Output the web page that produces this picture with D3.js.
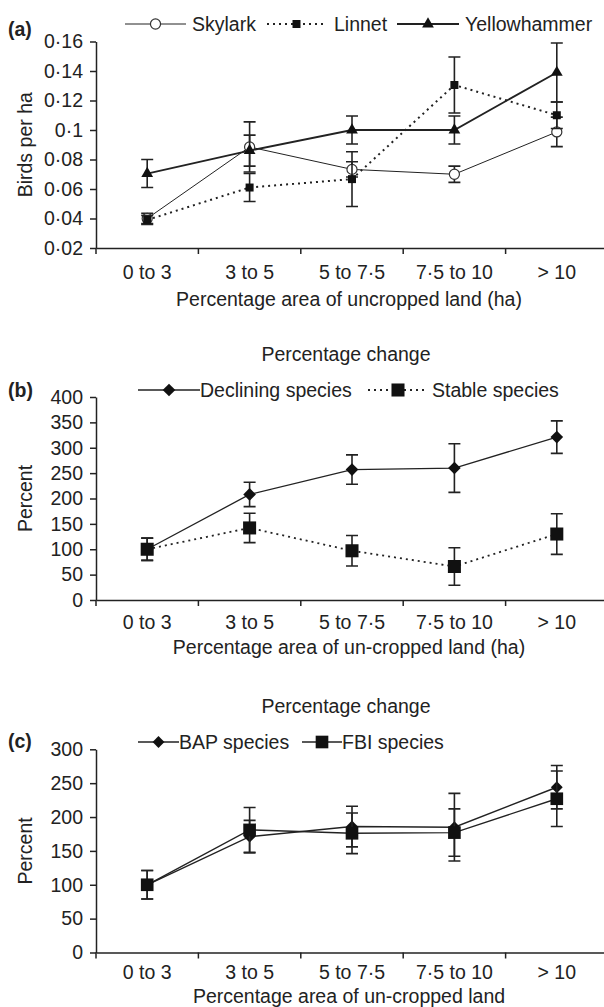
<!DOCTYPE html>
<html>
<head>
  <meta charset="utf-8">
  <title>Birds and uncropped land</title>
  <style>
  body { margin: 0; background: #fff; }
  svg text { font-family: "Liberation Sans", Arial, sans-serif; fill: #222; font-size: 19.5px; }
  .axis path, .axis line { stroke: #222; stroke-width: 1.5px; }
  .axis text { font-size: 19.5px; }
  </style>
</head>
<body>
  <svg width="604" height="1007"></svg>
  <script src="https://d3js.org/d3.v7.min.js"></script>
  <script>
  // categories on the x axis
  var categories = ["0 to 3", "3 to 5", "5 to 7·5", "7·5 to 10", "> 10"];

  // (a) birds per ha
  var ticksA = [0.02, 0.04, 0.06, 0.08, 0.10, 0.12, 0.14, 0.16];
  var tickLabelsA = ["0·02", "0·04", "0·06", "0·08", "0·1", "0·12", "0·14", "0·16"];
  var skylark = [0.040, 0.0885, 0.0733, 0.070, 0.0987];
  var skylarkErr = [0.0035, 0.017, 0.0052, 0.0055, 0.010];
  var linnet = [0.039, 0.061, 0.0667, 0.1305, 0.110];
  var linnetErr = [0.003, 0.0095, 0.0186, 0.019, 0.009];
  var yellowhammer = [0.0705, 0.086, 0.100, 0.100, 0.139];
  var yellowhammerErr = [0.0095, 0.0105, 0.0095, 0.0095, 0.020];

  // (b) percentage change, declining vs stable
  var ticksB = [0, 50, 100, 150, 200, 250, 300, 350, 400];
  var declining = [100, 208, 257, 260, 321];
  var decliningErr = [22, 24, 29, 48, 32];
  var stable = [100, 142, 97, 66, 130];
  var stableErr = [22, 29, 30, 37, 40];

  // (c) percentage change, BAP vs FBI
  var ticksC = [0, 50, 100, 150, 200, 250, 300];
  var bap = [100, 171, 186, 185, 244];
  var bapErr = [21, 24, 30, 50, 32];
  var fbi = [100, 181, 176, 177, 227];
  var fbiErr = [21, 33, 30, 35, 41];

  var svg = d3.select("svg");
  var left = 96, right = 608;

  var x = d3.scaleBand().domain(categories).range([left, right]).paddingInner(0);
  var cx = function(c) { return x(c) + x.bandwidth() / 2; };

  function marker(sel, m) {
    var sym = d3.symbol().type(m.type).size(m.size);
    sel.attr("d", sym)
      .attr("fill", m.fill)
      .attr("stroke", m.stroke || "none")
      .attr("stroke-width", m.strokeWidth || 0);
    if (m.rotate) sel.attr("transform", function() {
      return d3.select(this).attr("transform") + " rotate(45)";
    });
  }

  function panel(p) {
    var g = svg.append("g");
    var y = d3.scaleLinear().domain(p.domain).range([p.bottom, p.top]);

    // y axis
    g.append("g").attr("class", "axis")
      .attr("transform", "translate(" + left + ",0)")
      .call(d3.axisLeft(y).tickValues(p.ticks).tickSize(6).tickPadding(7)
        .tickSizeOuter(0).tickFormat(function(d, i) { return p.tickLabels ? p.tickLabels[i] : d; }));

    // x axis: ticks on the category boundaries
    var xa = g.append("g").attr("class", "axis")
      .attr("transform", "translate(0," + p.bottom + ")")
      .call(d3.axisBottom(x).tickSize(6).tickPadding(p.xPad).tickSizeOuter(0));
    xa.selectAll(".tick line").attr("x1", -x.bandwidth() / 2).attr("x2", -x.bandwidth() / 2);

    // titles
    g.append("text").attr("x", 8).attr("y", p.letterY)
      .style("font-weight", "bold").text(p.letter);
    g.append("text").attr("transform", "translate(32," + ((p.top + p.bottom) / 2) + ") rotate(-90)")
      .attr("text-anchor", "middle").text(p.ylabel);
    g.append("text").attr("x", 349).attr("y", p.bottom + p.titleOff)
      .attr("text-anchor", "middle").text(p.xlabel);
    if (p.heading) {
      g.append("text").attr("x", 346).attr("y", p.top - 36)
        .attr("text-anchor", "middle").text(p.heading);
    }

    // series
    p.series.forEach(function(s) {
      var pts = categories.map(function(c, i) { return {c: c, v: s.values[i], e: s.err[i]}; });
      var sg = g.append("g");
      sg.selectAll(".err").data(pts).enter().append("path")
        .attr("fill", "none").attr("stroke", "#222").attr("stroke-width", 1.6)
        .attr("d", function(d) {
          var xx = cx(d.c), y1 = y(d.v + d.e), y2 = y(d.v - d.e), w = 6;
          return "M" + (xx - w) + "," + y1 + "H" + (xx + w) + "M" + xx + "," + y1 + "V" + y2 +
            "M" + (xx - w) + "," + y2 + "H" + (xx + w);
        });
      sg.append("path").datum(pts)
        .attr("fill", "none").attr("stroke", "#222")
        .attr("stroke-width", s.width).attr("stroke-dasharray", s.dash || null)
        .attr("d", d3.line().x(function(d) { return cx(d.c); }).y(function(d) { return y(d.v); }));
      sg.selectAll(".mk").data(pts).enter().append("path")
        .attr("transform", function(d) { return "translate(" + cx(d.c) + "," + y(d.v) + ")"; })
        .call(marker, s.marker);

      // legend entry
      var lg = g.append("g");
      lg.append("line").attr("x1", s.legend[0]).attr("x2", s.legend[1])
        .attr("y1", p.legendY).attr("y2", p.legendY)
        .attr("stroke", "#222").attr("stroke-width", s.width).attr("stroke-dasharray", s.dash || null);
      lg.append("path").attr("transform", "translate(" + ((s.legend[0] + s.legend[1]) / 2) + "," + p.legendY + ")")
        .call(marker, s.marker);
      lg.append("text").attr("x", s.legend[2]).attr("y", p.legendY).attr("dy", "0.35em")
        .text(s.name);
    });
  }

  panel({
    letter: "(a)", ylabel: "Birds per ha", xlabel: "Percentage area of uncropped land (ha)",
    domain: [0.02, 0.16], ticks: ticksA, tickLabels: tickLabelsA, top: 41.5, bottom: 248, legendY: 24,
    letterY: 35.5, xPad: 11, titleOff: 58,
    series: [
      {name: "Skylark", values: skylark, err: skylarkErr, width: 1, legend: [125, 186, 192],
        marker: {type: d3.symbolCircle, size: 80, fill: "#fff", stroke: "#333", strokeWidth: 1.2}},
      {name: "Linnet", values: linnet, err: linnetErr, width: 2, dash: "2,4", legend: [267, 326, 334],
        marker: {type: d3.symbolSquare, size: 64, fill: "#111"}},
      {name: "Yellowhammer", values: yellowhammer, err: yellowhammerErr, width: 1.8, legend: [397, 459, 465],
        marker: {type: d3.symbolTriangle, size: 60, fill: "#111"}}
    ]
  });

  panel({
    letter: "(b)", ylabel: "Percent", xlabel: "Percentage area of un-cropped land (ha)", heading: "Percentage change",
    domain: [0, 400], ticks: ticksB, top: 397, bottom: 600, legendY: 390,
    letterY: 396.5, xPad: 9, titleOff: 53.5,
    series: [
      {name: "Declining species", values: declining, err: decliningErr, width: 1.3, legend: [138, 200, 200],
        marker: {type: d3.symbolSquare, size: 80, fill: "#111", rotate: true}},
      {name: "Stable species", values: stable, err: stableErr, width: 1.8, dash: "2,4", legend: [368, 428, 432],
        marker: {type: d3.symbolSquare, size: 170, fill: "#111"}}
    ]
  });

  panel({
    letter: "(c)", ylabel: "Percent", xlabel: "Percentage area of un-cropped land", heading: "Percentage change",
    domain: [0, 300], ticks: ticksC, top: 749.3, bottom: 952.5, legendY: 742,
    letterY: 748, xPad: 6.5, titleOff: 50.5,
    series: [
      {name: "BAP species", values: bap, err: bapErr, width: 1.4, legend: [138, 179, 179],
        marker: {type: d3.symbolSquare, size: 70, fill: "#111", rotate: true}},
      {name: "FBI species", values: fbi, err: fbiErr, width: 1.4, legend: [302, 342, 342],
        marker: {type: d3.symbolSquare, size: 160, fill: "#111"}}
    ]
  });
  </script>
</body>
</html>
